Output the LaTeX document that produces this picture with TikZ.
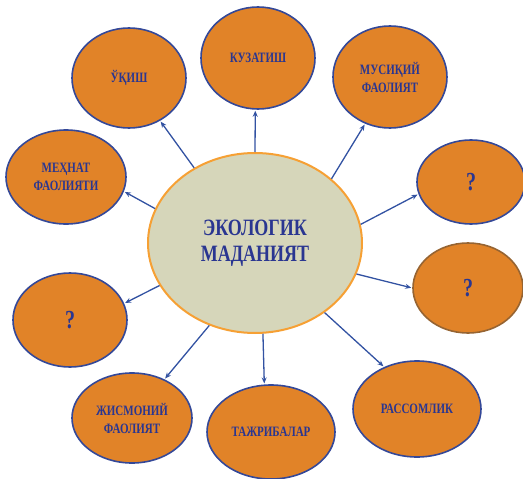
\documentclass[tikz,border=0pt]{standalone}
\usepackage{fontspec}
\usepackage{graphicx}
\setmainfont{Liberation Serif}
\usetikzlibrary{shapes.geometric,arrows.meta}
\definecolor{bubfill}{RGB}{225,131,40}
\definecolor{bubline}{RGB}{52,72,152}
\definecolor{corefill}{RGB}{214,214,186}
\definecolor{coreline}{RGB}{246,160,52}
\definecolor{arrcol}{RGB}{50,82,162}
\definecolor{txtcol}{RGB}{42,54,145}
\newcommand\tl[1]{\scalebox{1}[1.3]{#1}}
\begin{document}
\begin{tikzpicture}[x=1pt, y=-1pt,
  bub/.style = {draw=bubline, line width=1.6pt, fill=bubfill, ellipse, inner sep=0pt, align=center,
    text=txtcol, font=\bfseries\fontsize{11}{18}\selectfont},
  core/.style = {draw=coreline, line width=2pt, fill=corefill, ellipse, inner sep=0pt, align=center,
    text=txtcol, font=\bfseries\fontsize{18}{26}\selectfont},
  ask/.style = {font=\bfseries\fontsize{20}{22}\selectfont},
  arr/.style = {draw=arrcol, line width=1.3pt, -{Stealth[length=6pt,width=5pt]}, shorten >=1pt}]
\useasboundingbox (0,0) rectangle (523,479);
\node[core, minimum width=214pt, minimum height=180pt] (eco) at (255,243) {\tl{ЭКОЛОГИК}\\\tl{МАДАНИЯТ}};
\node[bub, minimum width=114pt, minimum height=100pt] (read) at (129,78) {\tl{ЎҚИШ}};
\node[bub, minimum width=114pt, minimum height=102pt] (watch) at (258,58) {\tl{КУЗАТИШ}};
\node[bub, minimum width=114pt, minimum height=102pt] (music) at (390,77) {\tl{МУСИҚИЙ}\\\tl{ФАОЛИЯТ}};
\node[bub, minimum width=120pt, minimum height=94pt] (labour) at (66,177) {\tl{МЕҲНАТ}\\\tl{ФАОЛИЯТИ}};
\node[bub, ask, minimum width=108pt, minimum height=84pt] (qa) at (471,182) {\tl{?}};
\node[bub, ask, draw={rgb,255:red,150;green,100;blue,50}, minimum width=110pt, minimum height=90pt] (qb) at (468,288) {\tl{?}};
\node[bub, ask, minimum width=114pt, minimum height=94pt] (qc) at (70,320) {\tl{?}};
\node[bub, minimum width=120pt, minimum height=90pt] (sport) at (132,418) {\tl{ЖИСМОНИЙ}\\\tl{ФАОЛИЯТ}};
\node[bub, minimum width=128pt, minimum height=94pt] (tests) at (271,432) {\tl{ТАЖРИБАЛАР}};
\node[bub, minimum width=128pt, minimum height=96pt] (paint) at (417,409) {\tl{РАССОМЛИК}};
% arrows out of the centre
\draw[arr] (eco.129) -- (read.-54);
\draw[arr] (eco.90) -- (watch.-93);
\draw[arr] (eco.40) -- (music.242);
\draw[arr] (eco.161) -- (labour.-14);
\draw[arr] (eco.10) -- (qa.193);
\draw[arr] (eco.-17) -- (qb.180);
\draw[arr] (eco.204) -- (qc.17);
\draw[arr] (eco.241) -- (sport.50);
\draw[arr] (eco.275) -- (tests.98);
\draw[arr] (eco.315) -- (paint.128);
\end{tikzpicture}
\end{document}
